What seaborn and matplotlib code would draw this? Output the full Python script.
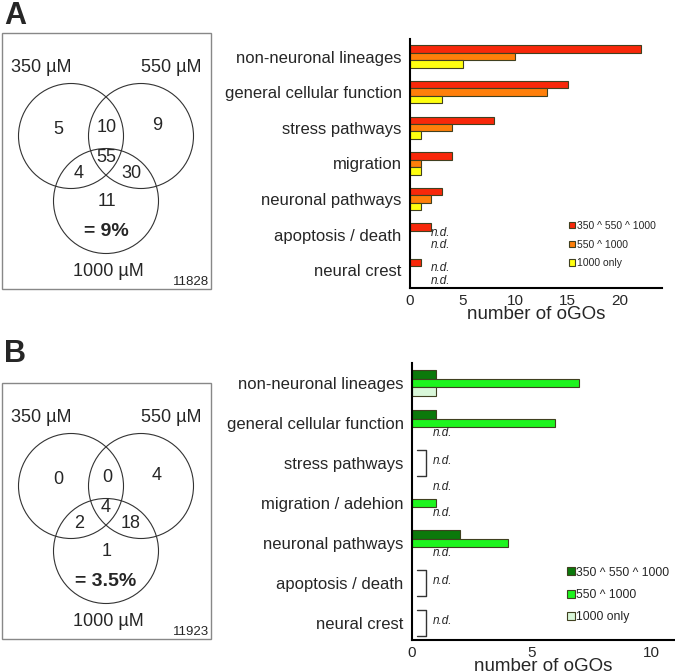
import matplotlib
matplotlib.use("Agg")
import matplotlib.pyplot as plt
from matplotlib.patches import Circle, Rectangle, Patch
from matplotlib.transforms import offset_copy
import numpy as np
import pandas as pd
import seaborn as sns

nan = np.nan

# bar chart data (n.d. = nan)
cats_a = ["non-neuronal lineages", "general cellular function", "stress pathways",
          "migration", "neuronal pathways", "apoptosis / death", "neural crest"]
cats_b = ["non-neuronal lineages", "general cellular function", "stress pathways",
          "migration / adehion", "neuronal pathways", "apoptosis / death", "neural crest"]
sets = ["350 ^ 550 ^ 1000", "550 ^ 1000", "1000 only"]

a_all = [22, 15, 8, 4, 3, 2, 1]
a_550 = [10, 13, 4, 1, 2, nan, nan]
a_1000 = [5, 3, 1, 1, 1, nan, nan]

b_all = [1, 1, nan, nan, 2, nan, nan]
b_550 = [7, 6, nan, 1, 4, nan, nan]
b_1000 = [1, nan, nan, nan, nan, nan, nan]

colors_a = ["#f8280a", "#ff7f0a", "#ffff10"]
colors_b = ["#0b790b", "#1ef41e", "#d9f7d9"]

# venn data: 350 only, 350&550, 550 only, all three, 350&1000, 550&1000, 1000 only
venn_a = [5, 10, 9, 55, 4, 30, 11]
venn_b = [0, 0, 4, 4, 2, 18, 1]
pct_a = "= 9%"
pct_b = "= 3.5%"
total_a = "11828"
total_b = "11923"
conc_labels = ["350 µM", "550 µM", "1000 µM"]

sns.set_style("white")
plt.rcParams["font.family"] = ["Liberation Sans", "DejaVu Sans"]

W, H = 675, 671
fig = plt.figure(figsize=(W / 100, H / 100), dpi=100)

# overlay in pixel coords for the venn diagrams and panel letters
ov = fig.add_axes([0, 0, 1, 1])
ov.set_xlim(0, W)
ov.set_ylim(H, 0)
ov.axis("off")

region_xy = [(58, 96), (107, 94), (157, 93), (106, 124), (79, 141), (131, 140), (107, 169)]


def venn(top, counts, pct, total, letter, letter_y):
    ov.text(4, letter_y, letter, fontsize=22, fontweight="bold", ha="left", va="center")
    ov.add_patch(Rectangle((2, top), 209, 256, fill=False, edgecolor="#888888", lw=1.0))
    for cx, cy in [(71, 103), (141, 103), (106, 168)]:
        ov.add_patch(Circle((cx, top + cy), 52.5, fill=False, edgecolor="#333333", lw=0.8))
    for (x, y), n in zip(region_xy, counts):
        ov.text(x, top + y, str(n), fontsize=13, ha="center", va="center")
    ov.text(106, top + 198, pct, fontsize=14, fontweight="bold", ha="center", va="center")
    ov.text(41, top + 34, conc_labels[0], fontsize=13, ha="center", va="center")
    ov.text(171, top + 34, conc_labels[1], fontsize=13, ha="center", va="center")
    ov.text(108, top + 238, conc_labels[2], fontsize=13, ha="center", va="center")
    ov.text(209, top + 249, total, fontsize=9.5, ha="right", va="center")


venn(33, venn_a, pct_a, total_a, "A", 16)
venn(383, venn_b, pct_b, total_b, "B", 354)


def bar_panel(rect, cats, cols, colors, xmax, xticks, ylim, leg_anchor, leg_size,
              nd_offsets, brackets):
    ax = fig.add_axes(rect)
    df = pd.DataFrame({"category": cats, sets[0]: cols[0], sets[1]: cols[1], sets[2]: cols[2]})
    df = df.melt(id_vars="category", var_name="set", value_name="oGOs")
    sns.barplot(data=df.dropna(), y="category", x="oGOs", hue="set", order=cats,
                hue_order=sets, palette=colors, saturation=1, width=0.63, errorbar=None,
                edgecolor="#404020", linewidth=0.8, legend=False, orient="h", ax=ax)
    ax.set_xlim(0, xmax)
    ax.set_ylim(*ylim)
    ax.set_xticks(xticks)
    ax.set_ylabel("")
    ax.set_xlabel("number of oGOs", fontsize=13.5, labelpad=-1)
    ax.tick_params(axis="y", length=0, pad=6, labelsize=12)
    ax.tick_params(axis="x", length=3, width=1, pad=1, labelsize=11, direction="out")
    sns.despine(ax=ax)
    for s in ["left", "bottom"]:
        ax.spines[s].set_linewidth(1.5)
        ax.spines[s].set_color("black")

    # n.d. labels, shifted right of the axis by a fixed number of points
    nd_tr = offset_copy(ax.transData, fig=fig, x=15, y=0, units="points")
    for i in range(len(cats)):
        vals = [cols[j][i] for j in range(3)]
        if brackets and all(np.isnan(v) for v in vals):
            bx0, bx1 = 0.22, 0.58
            ax.plot([bx0, bx1, bx1, bx0], [i - 0.33, i - 0.33, i + 0.33, i + 0.33],
                    color="#333333", lw=1.0)
            ax.text(0, i - 0.05, "n.d.", transform=nd_tr, ha="left", va="center",
                    style="italic", fontsize=8.5)
            continue
        for j, v in enumerate(vals):
            if np.isnan(v):
                ax.text(0, i + nd_offsets[j], "n.d.", transform=nd_tr, ha="left",
                        va="center", style="italic", fontsize=8.5)

    handles = [Patch(facecolor=c, edgecolor="#404020", lw=0.8) for c in colors]
    ax.legend(handles, sets, loc="upper left", bbox_to_anchor=leg_anchor, frameon=False,
              fontsize=leg_size, handlelength=0.6, handleheight=0.6, handletextpad=0.15,
              labelspacing=0.85, borderpad=0, borderaxespad=0)
    return ax


bar_panel([410 / W, 1 - 288 / H, 252 / W, 249.3 / H], cats_a, [a_all, a_550, a_1000],
          colors_a, 24, [0, 5, 10, 15, 20], (6.5, -0.5), (0.63, 0.27), 7.5,
          [-0.3, -0.05, 0.3], False)
bar_panel([412 / W, 1 - 640 / H, 263 / W, 277 / H], cats_b, [b_all, b_550, b_1000],
          colors_b, 11, [0, 5, 10], (6.43, -0.5), (0.59, 0.265), 8.8,
          [-0.4, 0.0, 0.25], True)

fig.savefig("out.png", dpi=100)
